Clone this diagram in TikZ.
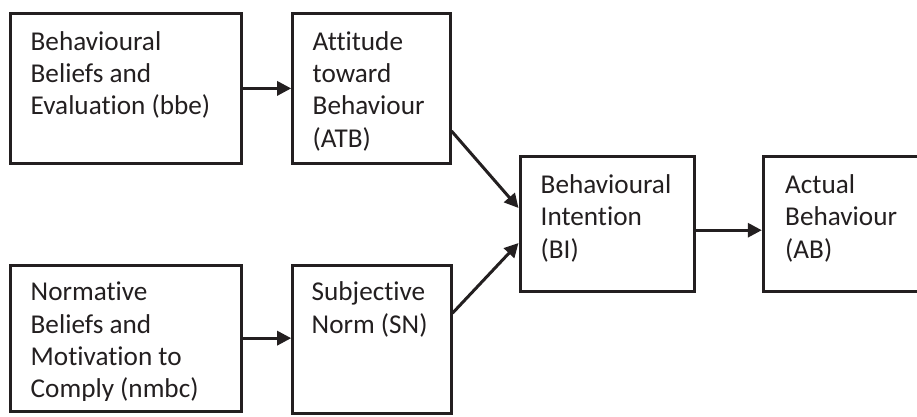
\documentclass[tikz,border=0pt]{standalone}
\usepackage{fontspec}
\setmainfont{Carlito}[Ligatures=NoCommon]
\usetikzlibrary{arrows.meta}
\definecolor{ink}{RGB}{35,31,32}
\begin{document}
\begin{tikzpicture}[x=1pt,y=-1pt,
  box/.style={draw=ink, line width=3pt, rectangle, inner sep=0pt},
  lbl/.style={anchor=base west, inner sep=0pt, text=ink, font=\fontsize{27.2}{32.4}\selectfont},
  conn/.style={draw=ink, line width=3pt, -{Triangle[length=14pt,width=14pt]}}]
\clip (0,0) rectangle (917,416);
\fill[white] (0,0) rectangle (917,416);
% boxes
\node[box, minimum width=231.5pt, minimum height=149.2pt] (bbe) at (125.75,88.4) {};
\node[box, minimum width=157.3pt, minimum height=149.2pt] (atb) at (371.35,88.4) {};
\node[box, minimum width=231.5pt, minimum height=146.3pt] (nmbc) at (125.75,338.15) {};
\node[box, minimum width=158.3pt, minimum height=148.3pt] (sn) at (371.85,339.15) {};
\node[box, minimum width=174pt, minimum height=135pt] (bi) at (607,224.2) {};
\node[box, minimum width=176.7pt, minimum height=135pt] (ab) at (851.65,224.2) {};
% labels
\node[lbl] (bbeT) at (30.5,50) {\parbox[t]{210pt}{\raggedright Behavioural\\Beliefs and\\Evaluation (bbe)}};
\node[lbl] (atbT) at (312.5,50) {\parbox[t]{140pt}{\raggedright Attitude\\toward\\Behaviour\\(ATB)}};
\begin{scope}
\clip (0,0) rectangle (917,400.5);
\node[lbl] (nmbcT) at (30.5,300.7) {\parbox[t]{210pt}{\raggedright Normative\\Beliefs and\\Motivation to\\Comply (nmbc)}};
\end{scope}
\node[lbl] (snT) at (311.5,300.7) {\parbox[t]{140pt}{\raggedright Subjective\\Norm (SN)}};
\node[lbl] (biT) at (540.5,193.3) {\parbox[t]{150pt}{\raggedright Behavioural\\Intention\\(BI)}};
\node[lbl] (abT) at (785,193.3) {\parbox[t]{150pt}{\raggedright Actual\\Behaviour\\(AB)}};
% connectors
\draw[conn] (bbe.east) -- (bbe.east -| atb.west);
\draw[conn] (nmbc.east) -- (nmbc.east -| sn.west);
\draw[conn] ([yshift=-42.6pt]atb.east) -- ([yshift=16.2pt]bi.west);
\draw[conn] ([yshift=26pt]sn.east) -- ([yshift=-18.8pt]bi.west);
\draw[conn] ([yshift=-6pt]bi.east) -- ([yshift=-6pt]bi.east -| ab.west);
\end{tikzpicture}
\end{document}
